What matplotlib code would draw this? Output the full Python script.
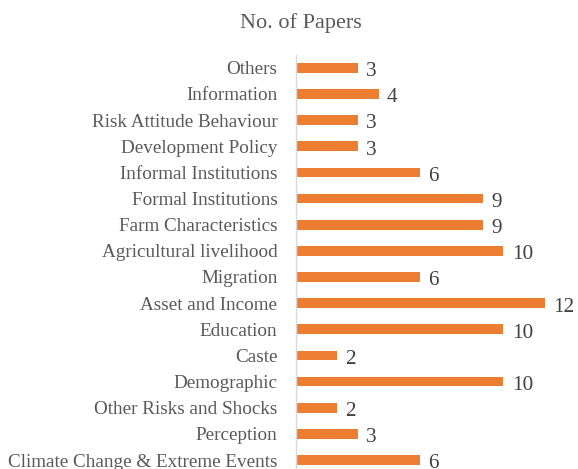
import matplotlib
matplotlib.use("Agg")
import matplotlib.pyplot as plt

categories = ["Others", "Information", "Risk Attitude Behaviour", "Development Policy",
              "Informal Institutions", "Formal Institutions", "Farm Characteristics",
              "Agricultural livelihood", "Migration", "Asset and Income", "Education",
              "Caste", "Demographic", "Other Risks and Shocks", "Perception",
              "Climate Change & Extreme Events"]
values = [3, 4, 3, 3, 6, 9, 9, 10, 6, 12, 10, 2, 10, 2, 3, 6]
title = "No. of Papers"

plt.rcParams['font.family'] = ['Liberation Serif', 'DejaVu Serif']

W, H = 578, 469
fig = plt.figure(figsize=(W / 100, H / 100), dpi=100)

x0 = 295.5
ppu = 20.79
xmax = 13.5
top_px = 54.7
step = 26.15
n = len(categories)
bottom_px = top_px + step * n
ax = fig.add_axes([x0 / W, 1 - bottom_px / H, xmax * ppu / W, (bottom_px - top_px) / H])

ys = list(range(n))
ax.barh(ys, values, height=0.37, color="#ED7D31", zorder=2)
ax.set_ylim(n - 0.5, -0.5)
ax.set_xlim(0, xmax)
ax.set_yticks(ys)
ax.set_yticklabels(categories, fontsize=13.75, color="#595959")
ax.tick_params(axis='y', length=0, pad=13)
ax.set_xticks([])
for s in ["top", "right", "bottom"]:
    ax.spines[s].set_visible(False)
ax.spines["left"].set_color("#D9D9D9")
ax.spines["left"].set_linewidth(1.0)

for y, v in zip(ys, values):
    ax.annotate(str(v), (v, y), xytext=(6, -1), textcoords="offset points",
                va="center_baseline", ha="left", fontsize=15.3, color="#404040")

fig.text(301 / W, 1 - 23 / H, title, ha="center", va="center", fontsize=16, color="#595959")

fig.savefig("out.png", dpi=100)
